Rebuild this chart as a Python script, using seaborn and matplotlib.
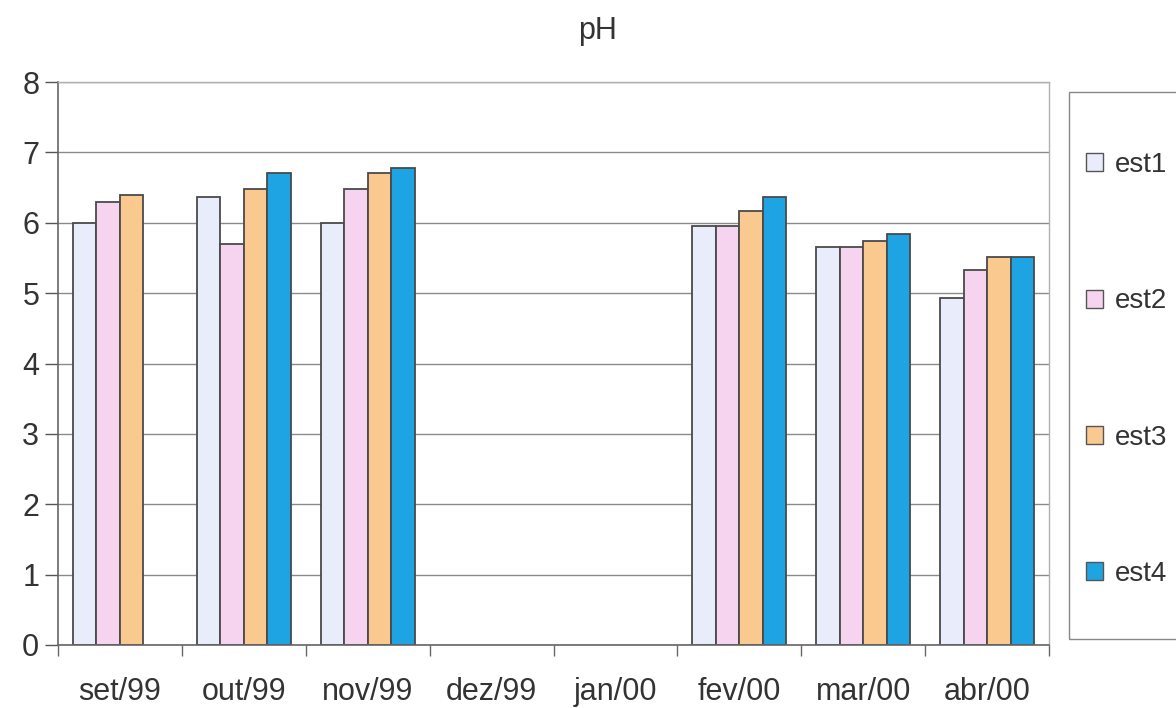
import numpy as np
import pandas as pd
import matplotlib
matplotlib.use("Agg")
import matplotlib.pyplot as plt
import seaborn as sns
from matplotlib.patches import Patch, Rectangle

months = ["set/99", "out/99", "nov/99", "dez/99", "jan/00", "fev/00", "mar/00", "abr/00"]
series = ["est1", "est2", "est3", "est4"]
est1 = [6.00, 6.37, 5.99, np.nan, np.nan, 5.96, 5.65, 4.93]
est2 = [6.30, 5.70, 6.48, np.nan, np.nan, 5.96, 5.65, 5.33]
est3 = [6.40, 6.48, 6.70, np.nan, np.nan, 6.16, 5.74, 5.52]
est4 = [np.nan, 6.70, 6.78, np.nan, np.nan, 6.36, 5.84, 5.52]
colors = ["#e9ecfa", "#f6d3ee", "#f9c98f", "#1ea3e3"]

rows = []
for name, vals in zip(series, [est1, est2, est3, est4]):
    for m, v in zip(months, vals):
        rows.append({"mes": m, "estacao": name, "pH": v})
df = pd.DataFrame(rows)

sns.set_theme(style="white")
plt.rcParams['font.family'] = ['Liberation Sans', 'DejaVu Sans']

fig = plt.figure(figsize=(11.76, 7.08), dpi=100)
ax = fig.add_axes([58/1176, 1 - 645/708, (1049-58)/1176, (645-82)/708])

sns.barplot(data=df, x="mes", y="pH", hue="estacao", order=months, hue_order=series,
            palette=colors, saturation=1, width=0.76, edgecolor="#4a4a4a", linewidth=1.3,
            errorbar=None, ax=ax, legend=False)

ax.set_ylim(0, 8)
ax.set_xlim(-0.5, len(months) - 0.5)
ax.set_yticks(range(0, 9))
ax.yaxis.grid(True, color="#8a8a8a", linewidth=1.0)
ax.set_axisbelow(True)
ax.set_xlabel("")
ax.set_ylabel("")
ax.tick_params(axis="y", labelsize=22, colors="#555555", length=9.5, direction="out", left=True, width=1, pad=4)
ax.tick_params(axis="y", labelcolor="#333333")
ax.tick_params(axis="x", which="major", length=0, labelsize=22, labelcolor="#333333", pad=23)
ax.set_xticks(np.arange(-0.5, len(months)), minor=True)
ax.tick_params(axis="x", which="minor", length=8, color="#666666", bottom=True, width=1)
for side in ["left", "bottom"]:
    ax.spines[side].set_color("#666666")
    ax.spines[side].set_linewidth(1.2)
for side in ["top", "right"]:
    ax.spines[side].set_color("#b0b0b0")
    ax.spines[side].set_linewidth(1.0)

fig.text(598/1176, 1 - 31/708, "pH", ha="center", va="center", fontsize=22, color="#333333")

# legend frame
fig.patches.append(Rectangle((1069/1176, 1 - 639/708), 120/1176, (639-92)/708,
                             transform=fig.transFigure, facecolor="white",
                             edgecolor="#888888", linewidth=1.0))
handles = [Patch(facecolor=c, edgecolor="#555555", linewidth=1.0) for c in colors]
leg = fig.legend(handles, series, loc="upper left", bbox_to_anchor=(1086/1176, 1 - 152/708),
                 frameon=False, fontsize=20, labelspacing=3.97, handlelength=0.62, handleheight=0.62,
                 handletextpad=0.43, borderpad=0.0, borderaxespad=0)
for t in leg.get_texts():
    t.set_color("#333333")

fig.savefig("out.png", dpi=100)
